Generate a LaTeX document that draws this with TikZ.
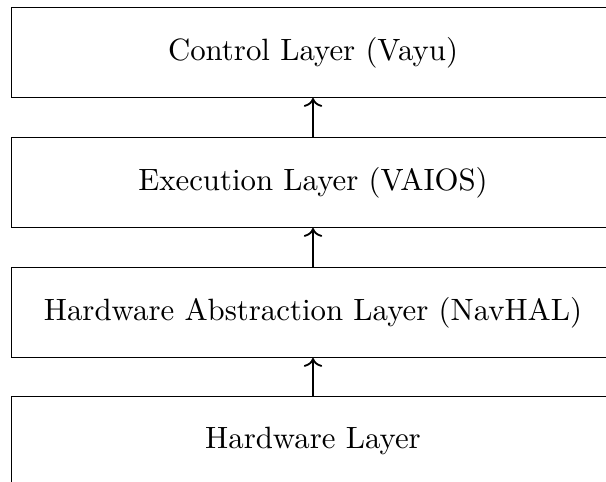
\documentclass[tikz,border=0pt]{standalone}
\usetikzlibrary{arrows.meta}
\begin{document}
\begin{tikzpicture}[x=0.33pt,y=-0.33pt,
  layerbox/.style={draw, line width=0.45pt, minimum width=199pt, minimum height=29.7pt,
    inner sep=0pt, font=\fontsize{10.17}{12}\selectfont},
  uparrow/.style={->, line width=0.6pt}]
  \useasboundingbox (0,0) rectangle (606,481);
  \node[layerbox] (ctrl) at (313,52.3) {Control Layer (Vayu)};
  \node[layerbox] (exec) at (313,182.3) {Execution Layer (VAIOS)};
  \node[layerbox] (hal)  at (313,312.3) {Hardware Abstraction Layer (NavHAL)};
  \node[layerbox] (hw)   at (313,441.3) {Hardware Layer};
  \draw[uparrow] (exec.north) -- (ctrl.south);
  \draw[uparrow] (hal.north) -- (exec.south);
  \draw[uparrow] (hw.north) -- (hal.south);
\end{tikzpicture}
\end{document}
